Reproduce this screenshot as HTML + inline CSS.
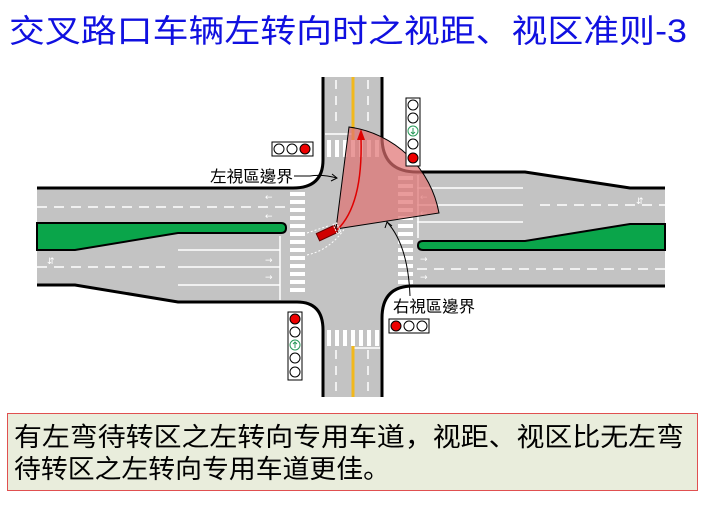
<!DOCTYPE html>
<html><head><meta charset="utf-8"><style>
html,body{margin:0;padding:0;background:#fff;}
svg{display:block;}
</style></head><body>
<svg width="706" height="505" viewBox="0 0 706 505" xmlns="http://www.w3.org/2000/svg">
<text x="9" y="42" font-family="Liberation Sans, Noto Sans CJK SC, sans-serif" font-size="32" fill="#1010e0" textLength="678" lengthAdjust="spacingAndGlyphs">交叉路口车辆左转向时之视距、视区准则-3</text>

<path d="M323,77 L382,77 L382,137 Q382,172 417,172 L525,172 L630,188 L665,188 L665,286 L413,286 Q382,286 382,318 L382,397 L323,397 L323,330 Q323,302 297,302 L178,302 L75,285 L37,285 L37,188 L293,188 Q323,188 323,160 Z" fill="#c3c3c3"/>

<g stroke="#fff" stroke-width="1.5" fill="none">
<line x1="37" y1="207" x2="285" y2="207" stroke-dasharray="10,7"/>
<line x1="37" y1="267" x2="165" y2="267" stroke-dasharray="10,7"/>
<line x1="178" y1="250" x2="280" y2="250"/>
<line x1="178" y1="267" x2="280" y2="267"/>
<line x1="178" y1="285" x2="280" y2="285"/>
<line x1="280" y1="236" x2="280" y2="300"/>
<line x1="417" y1="188" x2="523" y2="188"/>
<line x1="417" y1="205" x2="523" y2="205"/>
<line x1="417" y1="222" x2="523" y2="222"/>
<line x1="540" y1="205" x2="665" y2="205" stroke-dasharray="10,7"/>
<line x1="417" y1="269" x2="665" y2="269" stroke-dasharray="10,7"/>
<line x1="418" y1="175" x2="418" y2="238"/>
<line x1="336" y1="80" x2="336" y2="128" stroke-dasharray="9,7"/>
<line x1="368" y1="80" x2="368" y2="128" stroke-dasharray="9,7"/>
<line x1="336" y1="350" x2="336" y2="397" stroke-dasharray="9,7"/>
<line x1="368" y1="350" x2="368" y2="397" stroke-dasharray="9,7"/>
<line x1="325" y1="134" x2="353" y2="134"/>
<line x1="353" y1="348" x2="380" y2="348"/>
</g>
<line x1="353" y1="77" x2="353" y2="140" stroke="#f2b81c" stroke-width="3"/>
<line x1="353" y1="346" x2="353" y2="397" stroke="#f2b81c" stroke-width="3"/>

<g fill="#fff">
<path d="M290,192h15v4h-15zM290,200h15v4h-15zM290,208h15v4h-15zM290,216h15v4h-15zM290,224h15v4h-15zM290,232h15v4h-15zM290,240h15v4h-15zM290,248h15v4h-15zM290,256h15v4h-15zM290,264h15v4h-15zM290,272h15v4h-15zM290,280h15v4h-15zM290,288h15v4h-15z"/>
<path d="M398,176h15v4h-15zM398,184h15v4h-15zM398,192h15v4h-15zM398,200h15v4h-15zM398,208h15v4h-15zM398,216h15v4h-15zM398,224h15v4h-15zM398,232h15v4h-15zM398,240h15v4h-15zM398,248h15v4h-15zM398,256h15v4h-15zM398,264h15v4h-15zM398,272h15v4h-15zM398,280h15v4h-15z"/>
<path d="M327,140h4v17h-4zM335,140h4v17h-4zM343,140h4v17h-4zM351,140h4v17h-4zM359,140h4v17h-4zM367,140h4v17h-4zM375,140h4v17h-4z"/>
<path d="M327,330h4v16h-4zM335,330h4v16h-4zM343,330h4v16h-4zM351,330h4v16h-4zM359,330h4v16h-4zM367,330h4v16h-4zM375,330h4v16h-4z"/>
</g>
<g fill="#fff" font-family="DejaVu Sans, sans-serif" font-size="9">
<text x="265" y="200">←</text><text x="265" y="219">←</text>
<text x="265" y="263">→</text><text x="265" y="280">→</text>
<text x="420" y="200">←</text><text x="420" y="216">←</text>
<text x="420" y="262">→</text><text x="420" y="280">→</text>
<text x="47" y="264">⇵</text><text x="636" y="204">⇵</text>
</g>

<path d="M37,223 L281,223 Q286,223 286,228 Q286,233 281,233 L178,233 L75,250 L37,250 Z" fill="#0aa54a" stroke="#000" stroke-width="2"/>
<path d="M665,224 L630,224 L525,241 L423,241 Q418,241 418,245.5 Q418,250 423,250 L665,250 Z" fill="#0aa54a" stroke="#000" stroke-width="2"/>

<g stroke="#000" stroke-width="3" fill="none">
<path d="M323,77 L323,160 Q323,188 293,188 L37,188"/>
<path d="M37,285 L75,285 L178,302 L297,302 Q323,302 323,330 L323,397"/>
<path d="M382,77 L382,137 Q382,172 417,172 L525,172 L630,188 L665,188"/>
<path d="M665,286 L413,286 Q382,286 382,318 L382,397"/>
</g>

<path d="M307,233 L328,226 M307,255 Q330,250 345,228" stroke="#fff" stroke-width="1" stroke-dasharray="2,2" fill="none"/>

<path d="M336,229 L349,127 A106,106 0 0 1 439,213 Z" fill="#e07070" fill-opacity="0.7" stroke="#000" stroke-width="1"/>
<path d="M337,230 Q363,205 361,138" stroke="#e00000" stroke-width="1.5" fill="none"/>
<path d="M357,140 L361,129 L365,140 Z" fill="#e00000"/>
<g transform="translate(327,233) rotate(-25)">
<rect x="-10" y="-4" width="20" height="8" fill="#d00000" stroke="#600" stroke-width="1"/>
<rect x="9" y="-5" width="4" height="10" fill="none" stroke="#fff" stroke-width="1" stroke-dasharray="2,1"/>
</g>

<path d="M294,176 L310,176 Q322,174 337,178" stroke="#000" stroke-width="1" fill="none"/>
<path d="M332,174 L337,178 L331,181" stroke="#000" stroke-width="1" fill="none"/>
<path d="M410,296 Q408,245 387,222" stroke="#000" stroke-width="1" fill="none"/>
<path d="M385,228 L387,222 L392,226" stroke="#000" stroke-width="1" fill="none"/>
<g font-family="Liberation Sans, Noto Sans CJK TC, sans-serif" font-size="16" fill="#000">
<text x="210" y="182" textLength="83" lengthAdjust="spacingAndGlyphs">左視區邊界</text>
<text x="393" y="312" textLength="82" lengthAdjust="spacingAndGlyphs">右視區邊界</text>
</g>

<g stroke="#000" stroke-width="1">
<rect x="272" y="142" width="41" height="14" fill="#fff"/>
<circle cx="279" cy="149" r="5" fill="#fff"/><circle cx="292" cy="149" r="5" fill="#fff"/><circle cx="305" cy="149" r="5" fill="#e00"/>
<rect x="389" y="319" width="40" height="14" fill="#fff"/>
<circle cx="396" cy="326" r="5" fill="#e00"/><circle cx="409" cy="326" r="5" fill="#fff"/><circle cx="422" cy="326" r="5" fill="#fff"/>
<rect x="406" y="98" width="14" height="68" fill="#fff"/>
<circle cx="413" cy="105" r="5" fill="#fff"/><circle cx="413" cy="118" r="5" fill="#fff"/><circle cx="413" cy="131" r="5" fill="#fff" stroke="#2a9a5a"/><circle cx="413" cy="144" r="5" fill="#fff"/><circle cx="413" cy="158" r="5" fill="#e00"/>
<rect x="288" y="312" width="14" height="68" fill="#fff"/>
<circle cx="295" cy="319" r="5" fill="#e00"/><circle cx="295" cy="332" r="5" fill="#fff"/><circle cx="295" cy="345" r="5" fill="#fff" stroke="#2a9a5a"/><circle cx="295" cy="358" r="5" fill="#fff"/><circle cx="295" cy="372" r="5" fill="#fff"/>
</g>
<path d="M413,128 V134 M411,132 L413,134 L415,132 M295,348 V342 M293,344 L295,342 L297,344" stroke="#2a9a5a" stroke-width="1" fill="none"/>

<rect x="7.5" y="413.5" width="690" height="77" fill="#e9eddc" stroke="#e05050" stroke-width="1"/>
<g font-family="Liberation Sans, Noto Sans CJK SC, sans-serif" font-size="26" fill="#000">
<text x="14" y="446" textLength="670" lengthAdjust="spacingAndGlyphs">有左弯待转区之左转向专用车道，视距、视区比无左弯</text>
<text x="14" y="478" textLength="376" lengthAdjust="spacingAndGlyphs">待转区之左转向专用车道更佳。</text>
</g>
</svg>
</body></html>
